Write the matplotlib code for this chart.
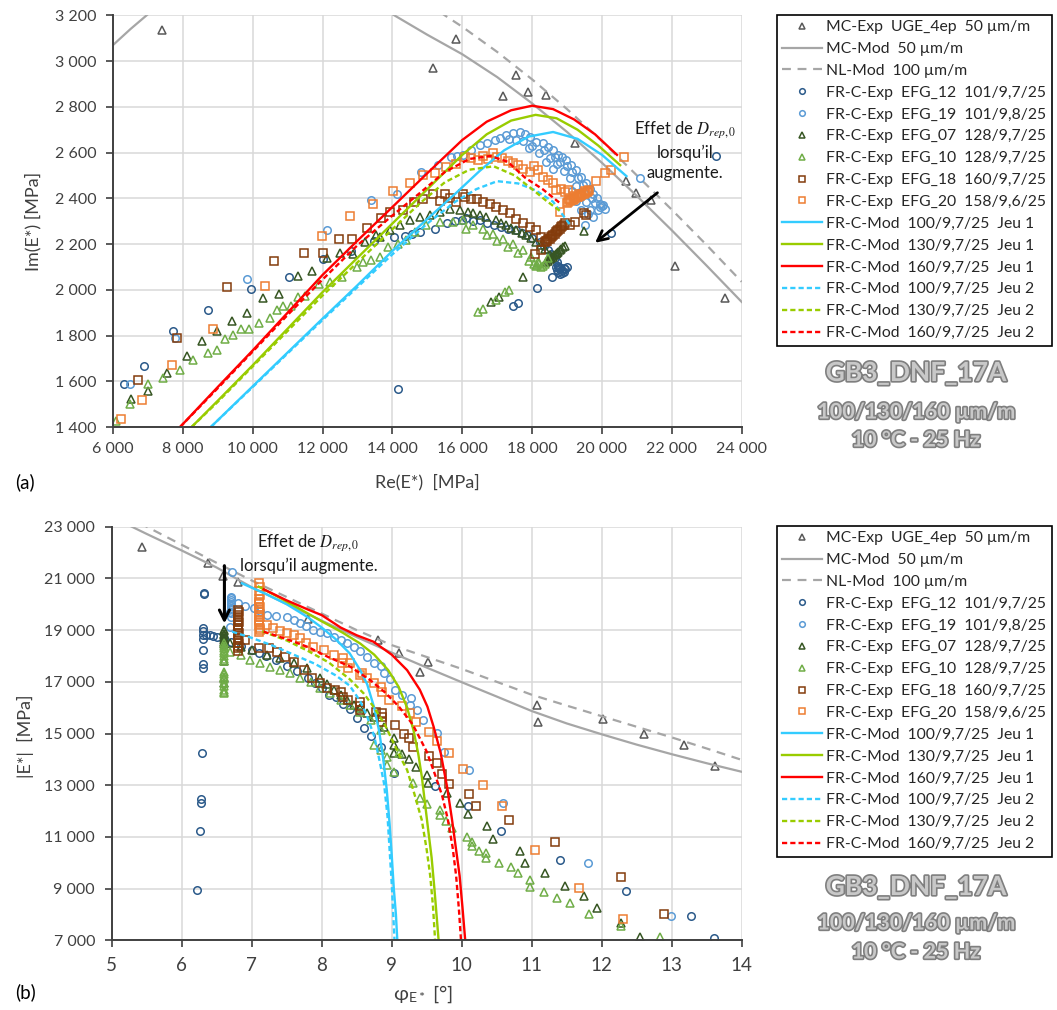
import matplotlib.pyplot as plt
import matplotlib.patheffects as pe
from matplotlib.ticker import FuncFormatter

plt.rcParams['font.family'] = ['Lato', 'DejaVu Sans']
plt.rcParams['mathtext.fontset'] = 'stix'

# ---------------- panel (a) : Cole-Cole, (Re, Im) in MPa ----------------
mc_exp_a = [(7390, 3136), (15150, 2971), (15830, 3095), (17170, 2848), (17530, 2939),
            (17880, 2866), (18410, 2851), (19240, 2640), (20700, 2475), (20980, 2424),
            (21410, 2392), (22100, 2103), (23510, 1964)]
mc_mod_a = [(6000, 3070), (6500, 3140), (7000, 3205), (8000, 3320), (9000, 3400), (10000, 3450),
            (11000, 3470), (12000, 3460), (13000, 3390), (14000, 3205), (15000, 3115), (16000, 3030),
            (17000, 2930), (18000, 2815), (19000, 2690), (20000, 2555), (21000, 2410), (22000, 2260),
            (23000, 2105), (24000, 1947)]
nl_mod_a = [(15000, 3255), (15500, 3200), (16000, 3150), (17000, 3040), (18000, 2920), (19000, 2790),
            (20000, 2650), (21000, 2500), (22000, 2350), (23000, 2195), (24000, 2035)]

efg12_a = [(6310, 1590), (6900, 1667), (7730, 1818), (8730, 1910), (9940, 2004), (11030, 2056),
           (12000, 2135), (12800, 2168), (13470, 2215), (14050, 2231), (14160, 1565), (14350, 2236),
           (14560, 2243), (14800, 2253), (15230, 2268), (15550, 2290), (15800, 2300), (16000, 2305),
           (16120, 2312), (16300, 2300), (16500, 2304), (16700, 2290), (16900, 2282), (17120, 2275),
           (17300, 2268), (17550, 2260), (17700, 2250), (17840, 2239), (18000, 2225), (18220, 2209),
           (18350, 2190), (18450, 2173), (18550, 2155), (18650, 2137), (18700, 2120), (18750, 2105),
           (18800, 2095), (18850, 2085), (18900, 2080), (18950, 2090), (18720, 2085), (18800, 2070),
           (18990, 2100), (18750, 2080), (18850, 2075), (18900, 2095), (18780, 2100), (18680, 2100),
           (18580, 2056), (18150, 2008), (17600, 1944), (17440, 1928), (20270, 2250), (23270, 2584)]
efg19_a = [(6490, 1590), (7770, 1789), (9825, 2047), (12113, 2263), (13400, 2392), (14120, 2420),
           (14830, 2516), (15310, 2545), (15690, 2581), (15850, 2585), (16020, 2589), (16250, 2610),
           (16500, 2632), (16700, 2640), (16930, 2654), (17070, 2663), (17250, 2675), (17450, 2684),
           (17640, 2691), (17800, 2680), (17950, 2670), (18120, 2647), (18300, 2640), (18450, 2625),
           (18600, 2611), (18750, 2590), (18850, 2580), (18980, 2567), (19100, 2545), (19270, 2523),
           (19400, 2495), (19550, 2465), (19650, 2440), (19740, 2421), (19850, 2400), (19930, 2377),
           (20000, 2365), (20080, 2355), (17900, 2620), (18200, 2600), (18500, 2575), (18700, 2550),
           (18900, 2520), (19075, 2490), (19250, 2455), (19400, 2420), (19550, 2385), (19650, 2350),
           (19744, 2320), (19500, 2282), (19950, 2360), (20020, 2370), (17350, 2660), (17550, 2655),
           (17750, 2650), (18000, 2630), (18350, 2610), (18650, 2580), (18800, 2560), (19000, 2540),
           (19150, 2515), (19300, 2490), (19450, 2460), (19600, 2430), (19700, 2400), (19800, 2380),
           (19880, 2350), (19600, 2330), (19400, 2350), (19250, 2390), (19150, 2430), (18600, 2530),
           (18400, 2560), (21100, 2489)]
efg07_a = [(6515, 1521), (6993, 1556), (7536, 1636), (8108, 1709), (8538, 1776), (8984, 1818),
           (9413, 1862), (9843, 1899), (10283, 1964), (10741, 1980), (11284, 2061), (11702, 2083),
           (12131, 2138), (12495, 2161), (12875, 2158), (13210, 2209), (13544, 2239), (13639, 2231),
           (13925, 2260), (14211, 2282), (14497, 2304), (14783, 2319), (15069, 2326), (15355, 2341),
           (15641, 2355), (15928, 2348), (16166, 2341), (16309, 2334), (16500, 2325), (16691, 2319),
           (16977, 2304), (17120, 2290), (17263, 2282), (17400, 2270), (17550, 2260), (17700, 2250),
           (17836, 2239), (17980, 2225), (18122, 2209), (18250, 2195), (18359, 2180), (18503, 2151),
           (18407, 2122), (18450, 2127), (18500, 2133), (18550, 2138), (18597, 2144), (18630, 2150),
           (18670, 2155), (18700, 2160), (18740, 2166), (18790, 2172), (18830, 2178), (18880, 2185),
           (18932, 2191), (17740, 2056), (17050, 1969), (16835, 1947), (19475, 2257)]
efg10_a = [(6077, 1425), (6486, 1500), (6993, 1587), (7440, 1616), (7917, 1648), (8297, 1695),
           (8727, 1724), (8984, 1738), (9204, 1787), (9442, 1801), (9662, 1830), (9900, 1830),
           (10186, 1857), (10500, 1875), (10683, 1910), (10872, 1928), (11100, 1930), (11302, 1969),
           (11500, 1975), (11902, 2024), (12200, 2035), (12543, 2056), (12972, 2100), (13144, 2120),
           (13401, 2129), (13639, 2144), (13877, 2187), (14163, 2199), (14403, 2217), (14640, 2253),
           (14975, 2282), (15355, 2297), (15736, 2297), (16022, 2304), (16119, 2268), (16309, 2282),
           (16595, 2268), (16881, 2246), (17167, 2224), (17453, 2202), (17740, 2173), (17979, 2144),
           (18168, 2122), (18359, 2115), (18455, 2137), (16700, 2240), (17000, 2215), (17300, 2185),
           (17600, 2160), (17900, 2125), (18100, 2105), (18250, 2100), (18150, 2110), (18300, 2105),
           (18200, 2118), (18050, 2115), (16452, 1903), (16595, 1918), (16977, 1954), (17235, 1990),
           (17330, 1998)]
efg18_a = [(6706, 1607), (7841, 1791), (9253, 2012), (10606, 2126), (11465, 2161), (12017, 2163),
           (12466, 2220), (12857, 2222), (13258, 2271), (13667, 2316), (13945, 2342), (14306, 2351),
           (14621, 2382), (14879, 2395), (15165, 2418), (15355, 2390), (15500, 2420), (15640, 2400),
           (15830, 2385), (16022, 2421), (16071, 2405), (16261, 2399), (16420, 2395), (16595, 2384),
           (16780, 2375), (16977, 2362), (17170, 2350), (17358, 2334), (17550, 2310), (17740, 2290),
           (17930, 2275), (18122, 2260), (18265, 2231), (18359, 2209), (18395, 2212), (18430, 2215),
           (18465, 2220), (18503, 2224), (18535, 2230), (18570, 2235), (18610, 2240), (18646, 2246),
           (18680, 2252), (18720, 2257), (18755, 2262), (18789, 2268), (18825, 2274), (18860, 2280),
           (18900, 2285), (18932, 2290), (18265, 2173), (18073, 2155), (19075, 2282), (19218, 2297),
           (19475, 2334), (19550, 2326)]
efg20_a = [(6220, 1433), (6838, 1517), (7679, 1670), (8870, 1830), (10349, 2015), (11971, 2234),
           (12781, 2322), (13448, 2373), (14020, 2431), (14497, 2465), (14879, 2500), (15212, 2509),
           (15547, 2535), (15833, 2552), (16071, 2581), (16260, 2575), (16450, 2568), (16600, 2585),
           (16750, 2570), (16881, 2596), (17000, 2580), (17150, 2575), (17300, 2562), (17450, 2555),
           (17600, 2545), (17750, 2530), (17930, 2516), (18050, 2540), (18168, 2523), (18311, 2494),
           (18450, 2480), (18597, 2465), (18694, 2436), (18830, 2440), (18932, 2428), (19027, 2436),
           (18789, 2341), (19000, 2380), (19040, 2384), (19080, 2388), (19120, 2391), (19160, 2394),
           (19200, 2397), (19240, 2400), (19280, 2404), (19320, 2407), (19360, 2410), (19400, 2414),
           (19440, 2417), (19480, 2420), (19520, 2424), (19560, 2427), (19600, 2431), (19630, 2435),
           (19050, 2395), (19200, 2410), (19350, 2420), (19500, 2433), (19839, 2475), (20096, 2509),
           (20268, 2526), (20620, 2579)]

mod100_j1_a = [(8800, 1400), (10000, 1578), (11000, 1726), (12000, 1874), (13000, 2020), (14000, 2170),
               (15000, 2310), (15800, 2420), (16500, 2520), (17200, 2610), (17900, 2670), (18600, 2690),
               (19300, 2660), (20000, 2590), (20700, 2497)]
mod130_j1_a = [(8250, 1400), (9000, 1515), (10000, 1670), (11000, 1830), (12000, 1990), (13000, 2140),
               (14000, 2290), (15000, 2440), (16000, 2590), (16700, 2680), (17400, 2740), (18100, 2765),
               (18700, 2750), (19300, 2700), (19900, 2630), (20520, 2545)]
mod160_j1_a = [(7920, 1400), (9000, 1575), (10000, 1735), (11000, 1900), (12000, 2065), (13000, 2215),
               (14000, 2362), (15000, 2510), (16000, 2655), (16700, 2735), (17400, 2785), (18000, 2805),
               (18600, 2790), (19200, 2745), (19800, 2680), (20430, 2590)]
mod100_j2_a = [(8800, 1400), (10000, 1575), (11000, 1722), (12000, 1868), (13000, 2012), (14000, 2155),
               (15000, 2290), (15800, 2385), (16400, 2440), (17000, 2475), (17600, 2465), (18100, 2435),
               (18600, 2385), (19080, 2285)]
mod130_j2_a = [(8250, 1400), (9000, 1510), (10000, 1665), (11000, 1820), (12000, 1975), (13000, 2120),
               (14000, 2265), (14800, 2380), (15500, 2470), (16200, 2525), (16900, 2540), (17500, 2500),
               (18000, 2440), (18400, 2390), (18840, 2340)]
mod160_j2_a = [(7920, 1400), (9000, 1570), (10000, 1730), (11000, 1890), (12000, 2045), (13000, 2195),
               (14000, 2325), (14800, 2425), (15500, 2515), (16200, 2572), (16800, 2585), (17300, 2560),
               (17800, 2490), (18300, 2440), (18790, 2380)]

# ---------------- panel (b) : Black space, (phi [deg], |E*| [MPa]) ----------------
mc_exp_b = [(5.43, 22226), (6.37, 21584), (6.59, 21093), (6.81, 20849), (7.81, 19418), (8.80, 18618),
            (9.10, 18103), (9.52, 17755), (9.41, 17391), (11.07, 16103), (11.09, 15446), (12.02, 15562),
            (12.61, 14970), (13.18, 14556), (13.62, 13756)]
mc_mod_b = [(5.0, 23380), (5.5, 22720), (6.0, 22080), (6.5, 21420), (7.0, 20660), (7.5, 20010),
            (8.0, 19365), (8.5, 18730), (9.0, 18130), (9.5, 17550), (10.0, 16985), (10.5, 16430),
            (11.0, 15870), (11.5, 15390), (12.0, 14970), (12.5, 14570), (13.0, 14200), (13.5, 13850),
            (14.0, 13520)]
nl_mod_b = [(5.4, 23140), (6.0, 22300), (6.5, 21600), (7.0, 20920), (7.5, 20280), (8.0, 19640),
            (8.5, 19000), (9.0, 18420), (9.5, 17960), (10.0, 17500), (10.5, 17000), (11.0, 16500),
            (11.5, 16080), (12.0, 15670), (12.5, 15260), (13.0, 14850), (13.5, 14420), (14.0, 13980)]

efg12_b = [(6.22, 8950), (6.26, 11230), (6.27, 12300), (6.27, 12450), (6.29, 14260), (6.32, 20385),
           (6.32, 20450), (6.31, 19070), (6.31, 18950), (6.31, 18800), (6.31, 18650), (6.30, 18250),
           (6.30, 17700), (6.30, 17530), (6.35, 18820), (6.40, 18800), (6.45, 18780), (6.50, 18750),
           (6.60, 18700), (6.70, 18550), (6.85, 18400), (7.0, 18250), (7.1, 18100), (7.2, 18000),
           (7.35, 17850), (7.5, 17600), (7.65, 17400), (7.8, 17150), (7.9, 16950), (8.0, 16750),
           (8.1, 16500), (8.2, 16400), (8.3, 16150), (8.4, 15950), (8.5, 15600), (8.6, 15200),
           (8.7, 14900), (8.84, 14490), (9.03, 13460), (9.62, 12970), (10.09, 12200), (10.56, 11230),
           (11.41, 10110), (12.35, 8920), (13.27, 7930), (13.61, 7080)]
efg19_b = [(6.72, 21260), (6.70, 20300), (6.70, 20250), (6.71, 20100), (6.70, 20150), (6.70, 20000),
           (6.70, 19950), (6.70, 19850), (6.70, 19800), (6.69, 19700), (6.71, 19650), (6.70, 19500),
           (6.69, 19130), (6.81, 20040), (6.9, 19950), (7.03, 19840), (7.12, 19750), (7.22, 19600),
           (7.35, 19550), (7.50, 19520), (7.6, 19400), (7.69, 19260), (7.78, 19150), (7.88, 19000),
           (7.98, 18930), (8.08, 18880), (8.17, 18750), (8.27, 18620), (8.36, 18500), (8.46, 18360),
           (8.55, 18200), (8.65, 17970), (8.74, 17720), (8.84, 17600), (8.89, 17330), (8.98, 17100),
           (9.05, 16680), (9.15, 16490), (9.27, 16360), (9.26, 16100), (9.36, 15910), (9.44, 15520),
           (9.65, 15010), (9.74, 14300), (10.10, 13600), (10.59, 12330), (11.80, 10000), (12.99, 7950)]
efg07_b = [(6.60, 19000), (6.61, 18950), (6.60, 18850), (6.60, 18800), (6.60, 18700), (6.61, 18620),
           (6.61, 18550), (6.61, 18450), (6.61, 17820), (6.60, 17140), (6.60, 16940), (6.69, 18490),
           (6.84, 18360), (7.0, 18250), (7.22, 18040), (7.41, 17910), (7.60, 17720), (7.79, 17520),
           (7.98, 17140), (8.08, 16900), (8.17, 16680), (8.27, 16500), (8.36, 16300), (8.46, 16100),
           (8.55, 15980), (8.65, 15800), (8.74, 15650), (8.89, 15260), (9.03, 14820), (9.03, 14560),
           (9.03, 14250), (9.15, 14200), (9.25, 14000), (9.35, 13700), (9.51, 13400), (9.52, 13080),
           (9.79, 12690), (9.98, 12330), (10.09, 11890), (10.36, 11440), (10.45, 10910), (10.83, 10470),
           (10.91, 10000), (11.19, 9590), (11.47, 9110), (11.75, 8720), (11.93, 8260), (12.28, 7660),
           (12.54, 7120)]
efg10_b = [(6.60, 18500), (6.61, 18400), (6.60, 18300), (6.60, 18200), (6.60, 18100), (6.61, 18000),
           (6.60, 17900), (6.60, 17800), (6.61, 17390), (6.61, 17300), (6.61, 17200), (6.60, 17100),
           (6.61, 16950), (6.61, 16850), (6.61, 16700), (6.60, 16600), (6.61, 16550), (6.69, 18170),
           (6.84, 18040), (6.98, 17840), (7.12, 17720), (7.26, 17590), (7.41, 17460), (7.55, 17330),
           (7.69, 17140), (7.84, 17000), (7.98, 16750), (8.12, 16560), (8.27, 16300), (8.41, 16100),
           (8.55, 15840), (8.70, 15520), (8.84, 15140), (8.74, 14560), (8.84, 14360), (8.93, 14100),
           (8.93, 13780), (9.03, 13520), (9.10, 14240), (9.31, 13080), (9.41, 12490), (9.50, 12270),
           (9.69, 12040), (9.69, 11850), (9.78, 11620), (9.86, 11330), (10.07, 10990), (10.15, 10820),
           (10.15, 10660), (10.24, 10460), (10.34, 10370), (10.34, 10170), (10.53, 10000), (10.71, 9830),
           (10.80, 9590), (10.98, 9330), (10.98, 9080), (11.17, 8880), (11.36, 8630), (11.54, 8430),
           (11.82, 8020), (12.27, 7560), (12.83, 7120)]
efg18_b = [(6.81, 19780), (6.82, 19700), (6.81, 19600), (6.80, 19500), (6.81, 19400), (6.82, 19300),
           (6.81, 19200), (6.80, 19100), (6.81, 19000), (6.82, 18900), (6.81, 18800), (6.80, 18700),
           (6.81, 18600), (6.82, 18500), (6.80, 18400), (6.81, 18300), (6.80, 18200), (6.91, 18620),
           (7.10, 18300), (7.24, 18300), (7.36, 18170), (7.48, 17970), (7.60, 17780), (7.74, 17460),
           (7.86, 17140), (7.98, 16940), (8.08, 16750), (8.19, 16680), (8.31, 16420), (8.38, 16300),
           (8.27, 16620), (8.55, 16230), (8.55, 16070), (8.55, 15910), (8.77, 15840), (8.86, 15780),
           (8.86, 15620), (8.86, 15460), (9.05, 15330), (9.18, 15000), (9.24, 14820), (9.31, 14490),
           (9.53, 14130), (9.64, 13850), (9.72, 13430), (9.82, 13050), (10.10, 12660), (10.20, 12210),
           (10.67, 11660), (11.33, 10790), (12.27, 9440), (12.89, 8010)]
efg20_b = [(7.11, 20810), (7.12, 20650), (7.11, 20500), (7.12, 20350), (7.11, 20200), (7.10, 20100),
           (7.11, 20000), (7.12, 19900), (7.11, 19800), (7.10, 19700), (7.11, 19600), (7.12, 19500),
           (7.11, 19400), (7.10, 19300), (7.11, 19200), (7.12, 19100), (7.12, 19000), (7.11, 18940),
           (7.22, 19200), (7.31, 19070), (7.40, 18950), (7.50, 18880), (7.60, 18810), (7.69, 18680),
           (7.78, 18500), (7.88, 18360), (8.03, 18230), (8.17, 18040), (8.29, 17740), (8.31, 17910),
           (8.38, 17520), (8.41, 17720), (8.55, 17260), (8.58, 17330), (8.65, 17140), (8.74, 16940),
           (8.84, 16810), (8.86, 16620), (8.96, 16300), (9.15, 16070), (9.26, 15810), (9.35, 15460),
           (9.53, 15070), (9.65, 14720), (9.82, 14240), (10.02, 13620), (10.31, 13000), (10.58, 12200),
           (11.04, 10490), (11.68, 9040), (12.30, 7830)]

mod100_j1_b = [(6.86, 20810), (7.2, 20400), (7.5, 20000), (7.8, 19500), (8.0, 19100), (8.2, 18650),
               (8.4, 18100), (8.55, 17450), (8.65, 16900), (8.75, 16000), (8.82, 15100), (8.88, 14000),
               (8.93, 12800), (8.97, 11500), (9.0, 10300), (9.03, 9000), (9.06, 8000), (9.08, 7000)]
mod130_j1_b = [(7.1, 20680), (7.4, 20250), (7.7, 19800), (8.0, 19340), (8.3, 18900), (8.55, 18480),
               (8.75, 18050), (8.95, 17450), (9.1, 16800), (9.22, 16000), (9.31, 15140), (9.38, 14200),
               (9.43, 13330), (9.48, 12200), (9.52, 11300), (9.57, 10200), (9.61, 9000), (9.64, 8000),
               (9.67, 7000)]
mod160_j1_b = [(7.17, 20580), (7.5, 20150), (7.8, 19800), (8.0, 19580), (8.27, 19100), (8.5, 18800),
               (8.74, 18550), (9.0, 18050), (9.22, 17450), (9.4, 16700), (9.51, 16040), (9.6, 15250),
               (9.7, 14240), (9.79, 12950), (9.86, 11700), (9.92, 10500), (9.97, 9500), (10.01, 8300),
               (10.05, 7000)]
mod100_j2_b = [(6.72, 18940), (7.0, 18700), (7.3, 18400), (7.6, 18050), (7.9, 17700), (8.2, 17250),
               (8.4, 16850), (8.55, 16250), (8.65, 15650), (8.75, 14900), (8.83, 13900), (8.89, 13070),
               (8.94, 11800), (8.97, 10500), (9.0, 9200), (9.02, 8100), (9.04, 7000)]
mod130_j2_b = [(7.15, 18950), (7.5, 18600), (7.8, 18200), (8.1, 17750), (8.4, 17100), (8.6, 16550),
               (8.75, 16000), (8.9, 15350), (9.03, 14620), (9.12, 14100), (9.22, 13590), (9.32, 12700),
               (9.43, 11650), (9.5, 10500), (9.55, 9500), (9.59, 8300), (9.62, 7000)]
mod160_j2_b = [(7.17, 18940), (7.5, 18650), (7.8, 18350), (8.1, 17950), (8.4, 17600), (8.7, 17050),
               (8.9, 16600), (9.1, 16050), (9.3, 15350), (9.5, 14300), (9.62, 13400), (9.72, 12600),
               (9.8, 11700), (9.87, 10600), (9.92, 9500), (9.96, 8200), (9.99, 7000)]

labels = ["MC-Exp  UGE_4ep  50 µm/m", "MC-Mod  50 µm/m", "NL-Mod  100 µm/m",
          "FR-C-Exp  EFG_12  101/9,7/25", "FR-C-Exp  EFG_19  101/9,8/25",
          "FR-C-Exp  EFG_07  128/9,7/25", "FR-C-Exp  EFG_10  128/9,7/25",
          "FR-C-Exp  EFG_18  160/9,7/25", "FR-C-Exp  EFG_20  158/9,6/25",
          "FR-C-Mod  100/9,7/25  Jeu 1", "FR-C-Mod  130/9,7/25  Jeu 1", "FR-C-Mod  160/9,7/25  Jeu 1",
          "FR-C-Mod  100/9,7/25  Jeu 2", "FR-C-Mod  130/9,7/25  Jeu 2", "FR-C-Mod  160/9,7/25  Jeu 2"]

# styles: (marker, colour) for points, (colour, dashed) for curves
pt_styles = [('^', '#595959'), ('o', '#2B5A8A'), ('o', '#5B9BD5'), ('^', '#375623'),
             ('^', '#70AD47'), ('s', '#843C0C'), ('s', '#ED7D31')]
gray_line = '#A6A6A6'
mod_cols = ['#33CCFF', '#99CC00', '#FF0000']


def thousands(v, pos):
    return f"{int(v):,}".replace(",", " ")


def draw(ax, mc_exp, mc_mod, nl_mod, exps, mods_j1, mods_j2):
    handles = []
    x, y = zip(*mc_exp)
    h, = ax.plot(x, y, ls='none', marker='^', ms=6.3, mfc='none', mec=pt_styles[0][1], mew=1.1)
    handles.append(h)
    x, y = zip(*mc_mod)
    h, = ax.plot(x, y, color=gray_line, lw=1.6)
    handles.append(h)
    x, y = zip(*nl_mod)
    h, = ax.plot(x, y, color=gray_line, lw=1.6, dashes=(4, 3))
    handles.append(h)
    for data, (mk, col) in zip(exps, pt_styles[1:]):
        x, y = zip(*data)
        ms = 5.4 if mk == 'o' else 5.8
        h, = ax.plot(x, y, ls='none', marker=mk, ms=ms, mfc='none', mec=col, mew=1.1)
        handles.append(h)
    for data, col in zip(mods_j1, mod_cols):
        x, y = zip(*data)
        h, = ax.plot(x, y, color=col, lw=1.7)
        handles.append(h)
    for data, col in zip(mods_j2, mod_cols):
        x, y = zip(*data)
        h, = ax.plot(x, y, color=col, lw=1.7, dashes=(2.2, 1.3))
        handles.append(h)
    ax.grid(True, color='#D9D9D9', lw=1.1)
    ax.set_axisbelow(True)
    for s in ['top', 'right']:
        ax.spines[s].set_visible(False)
    for s in ['left', 'bottom']:
        ax.spines[s].set_color('#404040')
        ax.spines[s].set_linewidth(1.4)
    ax.tick_params(colors='#404040', length=5, width=1.2, labelsize=11.5, labelcolor='#404040')
    ax.tick_params(axis='x', pad=6)
    ax.tick_params(axis='y', pad=7)
    return handles


fig = plt.figure(figsize=(10.57, 10.10), dpi=100)
ax_a = fig.add_axes([0.1069, 0.5772, 0.5948, 0.4076])
ax_b = fig.add_axes([0.1057, 0.0690, 0.5960, 0.4095])

h_a = draw(ax_a, mc_exp_a, mc_mod_a, nl_mod_a,
           [efg12_a, efg19_a, efg07_a, efg10_a, efg18_a, efg20_a],
           [mod100_j1_a, mod130_j1_a, mod160_j1_a], [mod100_j2_a, mod130_j2_a, mod160_j2_a])
ax_a.set_xlim(6000, 24000)
ax_a.set_ylim(1400, 3200)
ax_a.set_xticks(range(6000, 24001, 2000))
ax_a.set_yticks(range(1400, 3201, 200))
ax_a.xaxis.set_major_formatter(FuncFormatter(thousands))
ax_a.yaxis.set_major_formatter(FuncFormatter(thousands))

h_b = draw(ax_b, mc_exp_b, mc_mod_b, nl_mod_b,
           [efg12_b, efg19_b, efg07_b, efg10_b, efg18_b, efg20_b],
           [mod100_j1_b, mod130_j1_b, mod160_j1_b], [mod100_j2_b, mod130_j2_b, mod160_j2_b])
ax_b.set_xlim(5, 14)
ax_b.set_ylim(7000, 23000)
ax_b.set_xticks(range(5, 15))
ax_b.set_yticks(range(7000, 23001, 2000))
ax_b.yaxis.set_major_formatter(FuncFormatter(thousands))
ax_b.tick_params(axis='x', labelsize=13.5, pad=7)

# annotations
ax_a.annotate('', xy=(19741, 2198), xytext=(21650, 2432),
              arrowprops=dict(arrowstyle='->', color='black', lw=2.0, mutation_scale=18))
ax_a.text(22380, 2610, "Effet de $D_{rep,0}$\nlorsqu’il\naugmente.", ha='center', va='center',
          fontsize=12, linespacing=1.35, color='#1a1a1a')
ax_b.annotate('', xy=(6.61, 19150), xytext=(6.61, 21600),
              arrowprops=dict(arrowstyle='->', color='black', lw=2.2, mutation_scale=18))
ax_b.text(7.81, 21990, "Effet de $D_{rep,0}$\nlorsqu’il augmente.", ha='center', va='center',
          fontsize=12, linespacing=1.35, color='#1a1a1a')

# axis labels
fig.text(0.031, 0.781, "Im(E*) [MPa]", rotation=90, ha='center', va='center', fontsize=13, color='#404040')
fig.text(0.404, 0.523, "Re(E*)  [MPa]", ha='center', va='center', fontsize=13, color='#404040')
fig.text(0.024, 0.271, "|E*|  [MPa]", rotation=90, ha='center', va='center', fontsize=13, color='#404040')
fig.text(0.400, 0.016, r"φ$_{\mathregular{E*}}$ [°]", ha='center', va='center', fontsize=14.5, color='#404040')
fig.text(0.024, 0.523, "(a)", ha='center', va='center', fontsize=13.5)
fig.text(0.024, 0.018, "(b)", ha='center', va='center', fontsize=13.5)

# legends and title blocks
for handles, top, ys in [(h_a, 14.7, (373, 412, 440)), (h_b, 525.7, (887, 923, 952))]:
    leg = fig.legend(handles, labels, loc='upper left', bbox_to_anchor=(777 / 1057, 1 - top / 1010),
                     frameon=True, fancybox=False, edgecolor='black', framealpha=1, fontsize=11.3,
                     handlelength=2.5, handletextpad=0.3, labelspacing=0.5, borderpad=0.35,
                     borderaxespad=0, markerscale=0.75)
    leg.get_frame().set_linewidth(1.2)
    for t in leg.get_texts():
        t.set_color('#262626')
    effects = [pe.Stroke(linewidth=2.4, foreground='#7F7F7F'), pe.Normal()]
    fig.text(0.8666, 1 - ys[0] / 1010, "GB3_DNF_17A", ha='center', va='center', fontsize=19,
             fontweight='bold', color='#C8C8C8', path_effects=effects)
    fig.text(0.8666, 1 - ys[1] / 1010, "100/130/160 µm/m", ha='center', va='center', fontsize=15.5,
             fontweight='bold', color='#C8C8C8', path_effects=effects)
    fig.text(0.8666, 1 - ys[2] / 1010, "10 °C - 25 Hz", ha='center', va='center', fontsize=15.5,
             fontweight='bold', color='#C8C8C8', path_effects=effects)

fig.savefig('out.png', dpi=100)
